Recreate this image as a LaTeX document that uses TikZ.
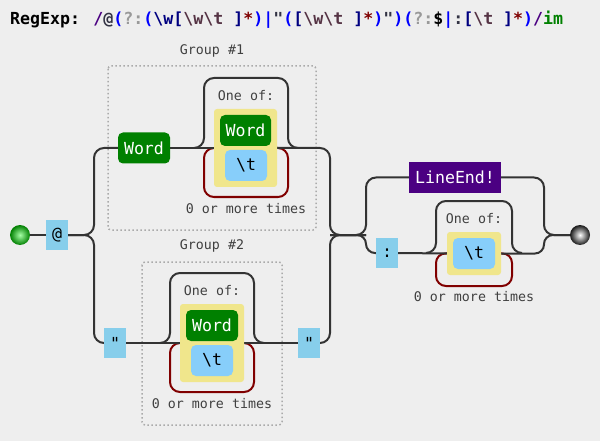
\documentclass[tikz,border=0pt]{standalone}
\usepackage{fontspec}
\newfontfamily\dvm{DejaVu Sans Mono}
\definecolor{bgc}{HTML}{EEEEEE}
\definecolor{litc}{HTML}{87CEEB}
\definecolor{escc}{HTML}{87CEFA}
\definecolor{khakic}{HTML}{F0E68C}
\definecolor{wgreen}{HTML}{008000}
\definecolor{indig}{HTML}{4B0082}
\definecolor{maroonc}{HTML}{800000}
\definecolor{linec}{HTML}{333333}
\definecolor{labc}{HTML}{404040}
\definecolor{grpc}{HTML}{AAAAAA}
\definecolor{tblue}{HTML}{0000FF}
\definecolor{tnavy}{HTML}{000080}
\definecolor{tgrey}{HTML}{999999}
\definecolor{texact}{HTML}{333344}
\definecolor{tcs}{HTML}{553344}
\definecolor{tgreen}{HTML}{008000}
\newcommand{\tc}[2]{\textcolor{#1}{#2}}
\newcommand{\bs}{\textbackslash}
\pgfdeclarelayer{back}
\pgfsetlayers{back,main}
\tikzset{
  boxtxt/.style={inner sep=0pt, font=\dvm\fontsize{16.6}{20}\selectfont},
  litbox/.style={boxtxt, fill=litc, minimum width=22, minimum height=30, text=black},
  wordbox/.style={boxtxt, fill=wgreen, rounded corners=5, minimum width=52, minimum height=31, text=white},
  escbox/.style={boxtxt, fill=escc, rounded corners=5, minimum width=42, minimum height=31, text=black},
  setbox/.style={fill=khakic, rounded corners=3, inner sep=0pt},
  endbox/.style={boxtxt, fill=indig, minimum width=92, minimum height=31, text=white},
  lab/.style={inner sep=0pt, text=labc, font=\dvm\fontsize{13.3}{16}\selectfont},
  conn/.style={draw=linec, line width=2pt},
  loopc/.style={draw=maroonc, line width=2pt, rounded corners=10},
  grp/.style={draw=grpc, line width=1.5pt, dash pattern=on 1.5pt off 2.5pt, rounded corners=3},
}
\begin{document}
\begin{tikzpicture}[x=1pt,y=-1pt]
\useasboundingbox (0,0) rectangle (600,441);

% title
\node[anchor=base west, inner sep=0pt, font=\dvm\bfseries\fontsize{16.6}{20}\selectfont] (title) at (10,25)
 {RegExp: \tc{indig}{/}\tc{texact}{@}\tc{tblue}{(}\tc{tgrey}{?:}\tc{tblue}{(}\tc{tnavy}{\bs w[}\tc{tcs}{\bs w\bs t}\tc{tnavy}{\ ]}\tc{maroonc}{*}\tc{tblue}{)|}\tc{texact}{"}\tc{tblue}{(}\tc{tnavy}{[}\tc{tcs}{\bs w\bs t}\tc{tnavy}{\ ]}\tc{maroonc}{*}\tc{tblue}{)}\tc{texact}{"}\tc{tblue}{)(}\tc{tgrey}{?:}\tc{black}{\$}\tc{tblue}{|}\tc{texact}{:}\tc{tnavy}{[}\tc{tcs}{\bs t}\tc{tnavy}{\ ]}\tc{maroonc}{*}\tc{tblue}{)}\tc{indig}{/}\tc{tgreen}{im}};

% terminals
\node[circle, minimum size=20, inner sep=0pt, inner color=green!35!white, outer color=green!50!black] (start) at (20,235) {};
\node[circle, minimum size=20, inner sep=0pt, inner color=white, outer color=black!90] (end) at (580,235) {};

% literal boxes
\node[litbox] (at) at (57,235) {@};
\node[litbox] (q1) at (115,343) {"};
\node[litbox] (q2) at (309,343) {"};
\node[litbox] (col) at (387,253) {:};

% group 1
\node[wordbox] (w1) at (144,148) {Word};
\node[setbox, minimum width=63, minimum height=78] (ys1) at (245.5,148) {};
\node[wordbox, minimum width=51] (wi1) at (245.5,130.5) {Word};
\node[escbox] (t1) at (246,165.5) {\bs t};
\node[lab] (g1) at (212,51) {Group \#1};
\node[lab] (oo1) at (246,96) {One of:};
\node[lab] (tm1) at (246,209) {0 or more times};

% group 2
\node[setbox, minimum width=64, minimum height=78] (ys2) at (212,343) {};
\node[wordbox] (wi2) at (212,325.5) {Word};
\node[escbox] (t2) at (212,360.5) {\bs t};
\node[lab] (g2) at (212,246) {Group \#2};
\node[lab] (oo2) at (212,291) {One of:};
\node[lab] (tm2) at (212,404) {0 or more times};

% line end part
\node[endbox] (le) at (455,177.5) {LineEnd!};
\node[setbox, minimum width=54, minimum height=43] (ys3) at (474,253.5) {};
\node[escbox] (t3) at (474,253.5) {\bs t};
\node[lab] (oo3) at (474,219) {One of:};
\node[lab] (tm3) at (474,297) {0 or more times};

\coordinate (j1) at (94,235);
\coordinate (j2) at (330,235);
\coordinate (j3) at (366,235);
\coordinate (j4) at (544,235);

\begin{pgfonlayer}{back}
\fill[bgc] (0,0) rectangle (600,441);
% groups
\draw[grp] (108,66) rectangle (316,230);
\draw[grp] (142,262) rectangle (282,425);
% repeat loops
\draw[loopc] (ys1.west) -- (204,148) -- (204,197) -- (288,197) -- (288,148) -- (ys1.east);
\draw[loopc] (ys2.west) -- (170,343) -- (170,392) -- (254,392) -- (254,343) -- (ys2.east);
\draw[loopc] (ys3.west) -- (436,253) -- (436,286) -- (512,286) -- (512,253) -- (ys3.east);
% connectors
\draw[conn] (start) -- (at);
\draw[conn, rounded corners=10] (at.east) -- (j1) |- (w1.west);
\draw[conn, rounded corners=10] (at.east) -- (j1) |- (q1.west);
\draw[conn] (w1.east) -- (ys1.west);
\draw[conn, rounded corners=10] (ys1.east) -| (j2) -- (j3);
\draw[conn] (q1.east) -- (q2.west);
\draw[conn, rounded corners=10] (q2.east) -| (j2) -- (j3);
\draw[conn, rounded corners=10] (j2) -- (j3) |- (le.west);
\draw[conn, rounded corners=9] (j2) -- (j3) |- (col.west);
\draw[conn] (col.east) -- (ys3.west);
\draw[conn, rounded corners=10] (le.east) -| (j4) -- (end);
\draw[conn, rounded corners=9] (ys3.east) -| (j4) -- (end);
% skip paths
\draw[conn, rounded corners=10] (194,148) -- (204,148) -- (204,78) -- (288,78) -- (288,148) -- (298,148);
\draw[conn, rounded corners=10] (160,343) -- (170,343) -- (170,273) -- (254,273) -- (254,343) -- (264,343);
\draw[conn, rounded corners=10] (426,253) -- (436,253) -- (436,201) -- (512,201) -- (512,253) -- (522,253);
\end{pgfonlayer}
\end{tikzpicture}
\end{document}
